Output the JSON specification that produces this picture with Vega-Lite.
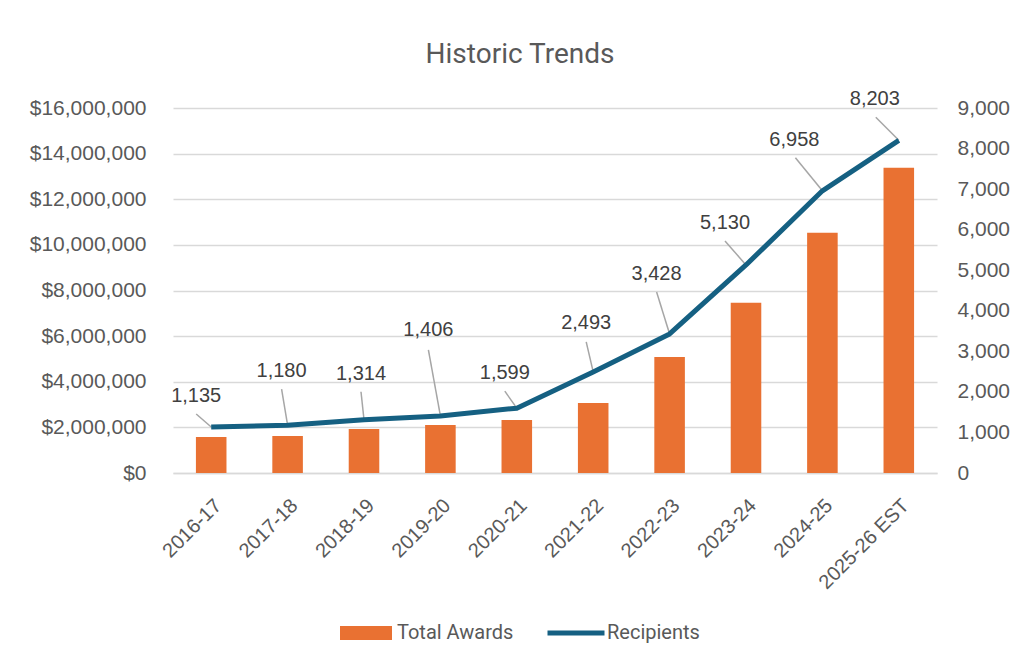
{
  "$schema": "https://vega.github.io/schema/vega-lite/v6.json",
  "width": 764,
  "height": 365,
  "padding": {"left": 29, "top": 41, "right": 10, "bottom": 10},
  "background": "white",
  "title": {"text": "Historic Trends", "font": "Roboto", "fontSize": 28, "fontWeight": "normal", "color": "#595959", "anchor": "middle", "offset": 20, "dx": -35},
  "config": {"view": {"stroke": null}, "font": "Liberation Sans"},
  "data": {"values": [
    {"Year": "2016-17", "Awards": 1580000, "Recipients": 1135},
    {"Year": "2017-18", "Awards": 1620000, "Recipients": 1180},
    {"Year": "2018-19", "Awards": 1930000, "Recipients": 1314},
    {"Year": "2019-20", "Awards": 2100000, "Recipients": 1406},
    {"Year": "2020-21", "Awards": 2320000, "Recipients": 1599},
    {"Year": "2021-22", "Awards": 3070000, "Recipients": 2493},
    {"Year": "2022-23", "Awards": 5090000, "Recipients": 3428},
    {"Year": "2023-24", "Awards": 7460000, "Recipients": 5130},
    {"Year": "2024-25", "Awards": 10530000, "Recipients": 6958},
    {"Year": "2025-26 EST", "Awards": 13380000, "Recipients": 8203}
  ]},
  "encoding": {
    "x": {"field": "Year", "type": "nominal", "sort": null,
      "scale": {"paddingInner": 0.6, "paddingOuter": 0.3},
      "axis": {"title": null, "labelAngle": -45, "labelFontSize": 20, "labelColor": "#595959", "domainColor": "#d9d9d9", "domainWidth": 1.5, "ticks": false, "labelPadding": 22}}
  },
  "layer": [
    {
      "mark": {"type": "bar"},
      "encoding": {
        "y": {"field": "Awards", "type": "quantitative", "scale": {"domain": [0, 16000000]},
          "axis": {"orient": "left", "title": null, "values": [0, 2000000, 4000000, 6000000, 8000000, 10000000, 12000000, 14000000, 16000000], "format": "$,.0f", "labelFontSize": 21, "labelColor": "#595959", "grid": true, "gridColor": "#d9d9d9", "gridWidth": 1.5, "domain": false, "ticks": false, "labelPadding": 27}},
        "color": {"datum": "Total Awards",
          "scale": {"domain": ["Total Awards", "Recipients"], "range": ["#E97132", "#156082"]},
          "legend": {"title": null, "orient": "none", "legendX": 167, "legendY": 499, "direction": "horizontal", "labelFont": "Roboto", "labelFontSize": 20, "labelColor": "#595959", "symbolSize": 3000, "columnPadding": 33, "labelOffset": 5,
            "encode": {"symbols": {"update": {
              "shape": {"signal": "datum.value === 'Recipients' ? 'M-1,-0.09L1,-0.09L1,0.09L-1,0.09Z' : 'M-1,-0.27L1,-0.27L1,0.27L-1,0.27Z'"},
              "fill": {"signal": "datum.value === 'Recipients' ? '#156082' : '#E97132'"},
              "strokeWidth": {"value": 0},
              "size": {"signal": "datum.value === 'Recipients' ? 3249 : 2704"}
            }}}}
        }
      }
    },
    {
      "encoding": {
        "y": {"field": "Recipients", "type": "quantitative", "scale": {"domain": [0, 9000]},
          "axis": {"orient": "right", "title": null, "values": [0, 1000, 2000, 3000, 4000, 5000, 6000, 7000, 8000, 9000], "format": ",.0f", "labelFontSize": 21, "labelColor": "#595959", "grid": false, "domain": false, "ticks": false, "labelPadding": 20}}
      },
      "layer": [
        {"transform": [{"filter": {"field": "Year", "equal": "2016-17"}}], "layer": [
          {"mark": {"type": "rule", "color": "#a6a6a6", "strokeWidth": 1.5, "x2Offset": -15, "y2Offset": -13}, "encoding": {"x2": {"field": "Year"}, "y2": {"field": "Recipients"}}},
          {"mark": {"type": "text", "dx": -15, "dy": -31, "fontSize": 20, "color": "#404040"}, "encoding": {"text": {"field": "Recipients", "type": "quantitative", "format": ","}}}
        ]},
        {"transform": [{"filter": {"field": "Year", "equal": "2017-18"}}], "layer": [
          {"mark": {"type": "rule", "color": "#a6a6a6", "strokeWidth": 1.5, "x2Offset": -6, "y2Offset": -36}, "encoding": {"x2": {"field": "Year"}, "y2": {"field": "Recipients"}}},
          {"mark": {"type": "text", "dx": -6, "dy": -54, "fontSize": 20, "color": "#404040"}, "encoding": {"text": {"field": "Recipients", "type": "quantitative", "format": ","}}}
        ]},
        {"transform": [{"filter": {"field": "Year", "equal": "2018-19"}}], "layer": [
          {"mark": {"type": "rule", "color": "#a6a6a6", "strokeWidth": 1.5, "x2Offset": -3, "y2Offset": -28}, "encoding": {"x2": {"field": "Year"}, "y2": {"field": "Recipients"}}},
          {"mark": {"type": "text", "dx": -3, "dy": -46, "fontSize": 20, "color": "#404040"}, "encoding": {"text": {"field": "Recipients", "type": "quantitative", "format": ","}}}
        ]},
        {"transform": [{"filter": {"field": "Year", "equal": "2019-20"}}], "layer": [
          {"mark": {"type": "rule", "color": "#a6a6a6", "strokeWidth": 1.5, "x2Offset": -12, "y2Offset": -66}, "encoding": {"x2": {"field": "Year"}, "y2": {"field": "Recipients"}}},
          {"mark": {"type": "text", "dx": -12, "dy": -86, "fontSize": 20, "color": "#404040"}, "encoding": {"text": {"field": "Recipients", "type": "quantitative", "format": ","}}}
        ]},
        {"transform": [{"filter": {"field": "Year", "equal": "2020-21"}}], "layer": [
          {"mark": {"type": "rule", "color": "#a6a6a6", "strokeWidth": 1.5, "x2Offset": -12, "y2Offset": -17}, "encoding": {"x2": {"field": "Year"}, "y2": {"field": "Recipients"}}},
          {"mark": {"type": "text", "dx": -12, "dy": -35, "fontSize": 20, "color": "#404040"}, "encoding": {"text": {"field": "Recipients", "type": "quantitative", "format": ","}}}
        ]},
        {"transform": [{"filter": {"field": "Year", "equal": "2021-22"}}], "layer": [
          {"mark": {"type": "rule", "color": "#a6a6a6", "strokeWidth": 1.5, "x2Offset": -7, "y2Offset": -30}, "encoding": {"x2": {"field": "Year"}, "y2": {"field": "Recipients"}}},
          {"mark": {"type": "text", "dx": -7, "dy": -49, "fontSize": 20, "color": "#404040"}, "encoding": {"text": {"field": "Recipients", "type": "quantitative", "format": ","}}}
        ]},
        {"transform": [{"filter": {"field": "Year", "equal": "2022-23"}}], "layer": [
          {"mark": {"type": "rule", "color": "#a6a6a6", "strokeWidth": 1.5, "x2Offset": -13, "y2Offset": -42}, "encoding": {"x2": {"field": "Year"}, "y2": {"field": "Recipients"}}},
          {"mark": {"type": "text", "dx": -13, "dy": -60, "fontSize": 20, "color": "#404040"}, "encoding": {"text": {"field": "Recipients", "type": "quantitative", "format": ","}}}
        ]},
        {"transform": [{"filter": {"field": "Year", "equal": "2023-24"}}], "layer": [
          {"mark": {"type": "rule", "color": "#a6a6a6", "strokeWidth": 1.5, "x2Offset": -21, "y2Offset": -24}, "encoding": {"x2": {"field": "Year"}, "y2": {"field": "Recipients"}}},
          {"mark": {"type": "text", "dx": -21, "dy": -42, "fontSize": 20, "color": "#404040"}, "encoding": {"text": {"field": "Recipients", "type": "quantitative", "format": ","}}}
        ]},
        {"transform": [{"filter": {"field": "Year", "equal": "2024-25"}}], "layer": [
          {"mark": {"type": "rule", "color": "#a6a6a6", "strokeWidth": 1.5, "x2Offset": -27, "y2Offset": -33}, "encoding": {"x2": {"field": "Year"}, "y2": {"field": "Recipients"}}},
          {"mark": {"type": "text", "dx": -28, "dy": -51, "fontSize": 20, "color": "#404040"}, "encoding": {"text": {"field": "Recipients", "type": "quantitative", "format": ","}}}
        ]},
        {"transform": [{"filter": {"field": "Year", "equal": "2025-26 EST"}}], "layer": [
          {"mark": {"type": "rule", "color": "#a6a6a6", "strokeWidth": 1.5, "x2Offset": -23, "y2Offset": -23}, "encoding": {"x2": {"field": "Year"}, "y2": {"field": "Recipients"}}},
          {"mark": {"type": "text", "dx": -24, "dy": -41, "fontSize": 20, "color": "#404040"}, "encoding": {"text": {"field": "Recipients", "type": "quantitative", "format": ","}}}
        ]},
        {"mark": {"type": "line", "strokeWidth": 5, "strokeJoin": "round"}, "encoding": {"color": {"datum": "Recipients"}}}
      ]
    }
  ],
  "resolve": {"scale": {"y": "independent"}}
}
